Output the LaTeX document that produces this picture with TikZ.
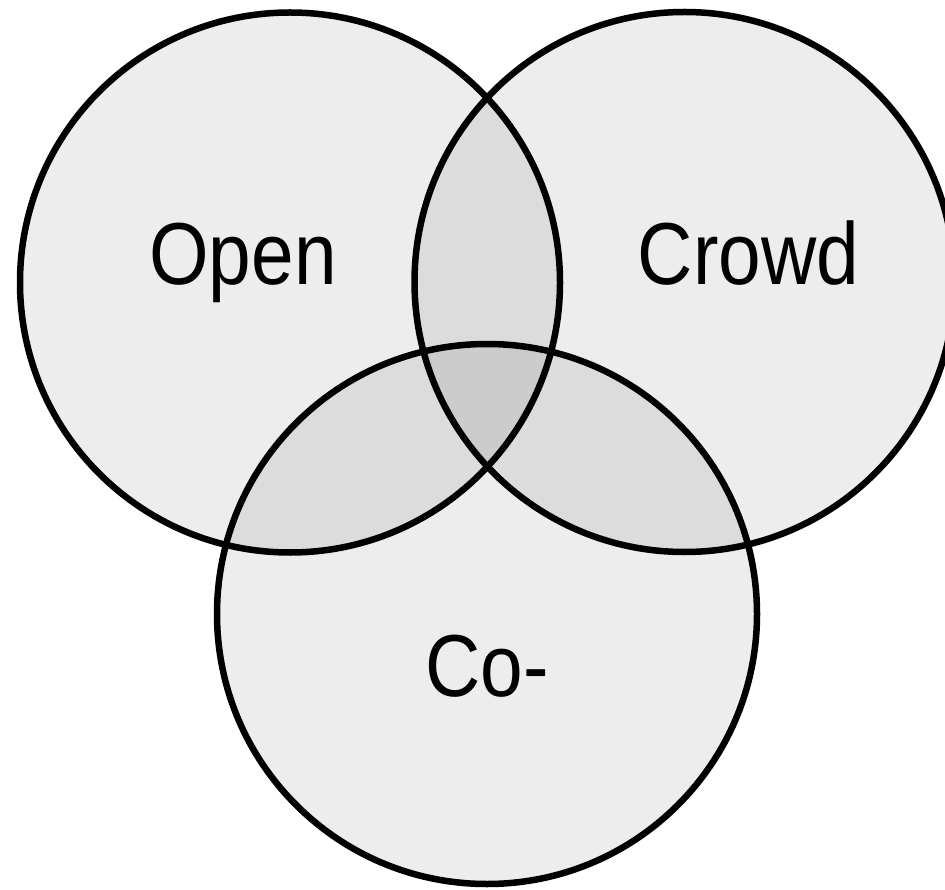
\documentclass[tikz,border=0pt]{standalone}
\usepackage{fontspec}
\setmainfont[FakeStretch=0.87]{Liberation Sans}
\begin{document}
\begin{tikzpicture}[x=1pt,y=-1pt,
  venn/.style={circle,draw=black,line width=6.5pt,fill=black,fill opacity=0.072,
    minimum size=540pt,inner sep=0pt},
  label/.style={anchor=base,inner sep=0pt,font=\fontsize{88}{100}\selectfont}]
\useasboundingbox (0,0) rectangle (945,890);
\fill[white] (0,0) rectangle (945,890);
\node[venn] (left) at (290,282.5) {};
\node[venn] (right) at (684.5,282) {};
\node[venn] (bottom) at (487,614) {};
\node[label] (open) at (243,285) {Open};
\node[label] (crowd) at (748.5,285) {Crowd};
\node[label] (co) at (487,696) {Co-};
\end{tikzpicture}
\end{document}
